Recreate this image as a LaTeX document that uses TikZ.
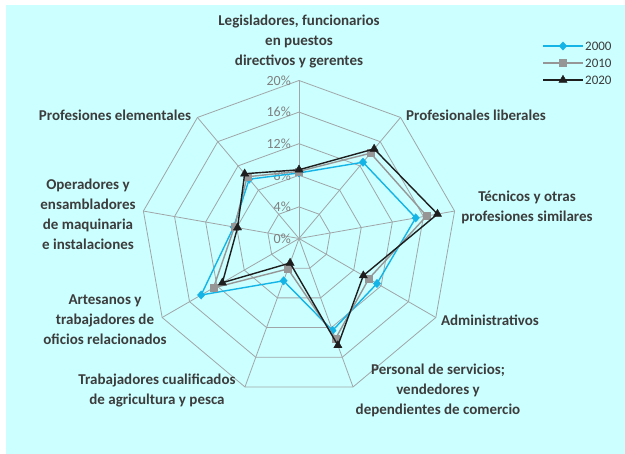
\documentclass[tikz,border=0pt]{standalone}
\usepackage{fontspec}
\setmainfont{Carlito}
\usetikzlibrary{shapes.geometric}
\definecolor{bgc}{RGB}{204,255,255}
\definecolor{gridc}{RGB}{160,165,168}
\definecolor{txt}{RGB}{60,60,60}
\definecolor{tickc}{RGB}{128,128,128}
\definecolor{cA}{RGB}{20,180,230}
\definecolor{cB}{RGB}{150,150,150}
\definecolor{cC}{RGB}{30,30,30}
\tikzset{
  gridline/.style={draw=gridc, line width=0.8pt},
  lab/.style={font=\fontsize{15}{20}\selectfont\bfseries, text=txt, align=center, inner sep=0pt},
  ticklab/.style={font=\fontsize{14}{14}\selectfont, text=tickc, anchor=east, inner sep=0pt},
  legtxt/.style={font=\fontsize{13}{14}\selectfont, text=txt, anchor=west, inner sep=0pt},
  serA/.style={draw=cA, line width=1.4pt, line join=round},
  serB/.style={draw=cB, line width=1.4pt, line join=round},
  serC/.style={draw=cC, line width=1.4pt, line join=round},
  mkA/.style={diamond, fill=cA, draw=cA, inner sep=0pt, minimum width=7.5pt, minimum height=8.5pt},
  mkB/.style={rectangle, fill=cB, draw=cB, inner sep=0pt, minimum size=7pt},
  mkC/.style={regular polygon, regular polygon sides=3, fill=cC, draw=cC, inner sep=0pt, minimum size=9.5pt},
}
\begin{document}
\begin{tikzpicture}[x=1pt,y=1pt]
\useasboundingbox (0,0) rectangle (625,454);
\fill[bgc] (6,0) rectangle (625,449);
% radar
\begin{scope}[shift={(299,215.5)}]
  \foreach \r in {31.6,63.2,94.8,126.4,158}{
    \draw[gridline] (90:\r) \foreach \a in {50,10,-30,-70,-110,-150,170,130}{ -- (\a:\r)} -- cycle;
  }
  \foreach \a in {90,50,10,-30,-70,-110,-150,170,130}{
    \draw[gridline] (0,0) -- (\a:158);
  }
  \node[ticklab] (t0) at (-8,0) {0\%};
  \node[ticklab] (t4) at (-8,31.6) {4\%};
  \node[ticklab] (t8) at (-8,63.2) {8\%};
  \node[ticklab] (t12) at (-8,94.8) {12\%};
  \node[ticklab] (t16) at (-8,126.4) {16\%};
  \node[ticklab] (t20) at (-8,158) {20\%};
  % data: per cent * 7.9
  \def\k{7.9}
  \coordinate (a1) at (90:8.3*\k);  \coordinate (b1) at (90:8.5*\k);  \coordinate (c1) at (90:8.7*\k);
  \coordinate (a2) at (50:12.6*\k); \coordinate (b2) at (50:14.1*\k); \coordinate (c2) at (50:14.8*\k);
  \coordinate (a3) at (10:15.0*\k); \coordinate (b3) at (10:16.4*\k); \coordinate (c3) at (10:17.8*\k);
  \coordinate (a4) at (-30:11.4*\k); \coordinate (b4) at (-30:10.2*\k); \coordinate (c4) at (-30:9.4*\k);
  \coordinate (a5) at (-70:12.4*\k); \coordinate (b5) at (-70:13.5*\k); \coordinate (c5) at (-70:14.4*\k);
  \coordinate (a6) at (-110:5.7*\k); \coordinate (b6) at (-110:4.1*\k); \coordinate (c6) at (-110:3.3*\k);
  \coordinate (a7) at (-150:14.3*\k); \coordinate (b7) at (-150:12.5*\k); \coordinate (c7) at (-150:11.2*\k);
  \coordinate (a8) at (170:8.4*\k); \coordinate (b8) at (170:8.3*\k); \coordinate (c8) at (170:7.9*\k);
  \coordinate (a9) at (130:9.8*\k); \coordinate (b9) at (130:10.2*\k); \coordinate (c9) at (130:10.7*\k);
  \draw[serA] (a1) -- (a2) -- (a3) -- (a4) -- (a5) -- (a6) -- (a7) -- (a8) -- (a9) -- cycle;
  \foreach \i in {1,...,9}{ \node[mkA] (ma\i) at (a\i) {}; }
  \draw[serB] (b1) -- (b2) -- (b3) -- (b4) -- (b5) -- (b6) -- (b7) -- (b8) -- (b9) -- cycle;
  \foreach \i in {1,...,9}{ \node[mkB] (mb\i) at (b\i) {}; }
  \draw[serC] (c1) -- (c2) -- (c3) -- (c4) -- (c5) -- (c6) -- (c7) -- (c8) -- (c9) -- cycle;
  \foreach \i in {1,...,9}{ \node[mkC] (mc\i) at (c\i) {}; }
\end{scope}
% category labels (y = 454 - px)
\node[lab] (L1) at (299,412) {Legisladores, funcionarios\\en puestos\\directivos y gerentes};
\node[lab] (L2) at (476,339) {Profesionales liberales};
\node[lab] (L3) at (527,247) {Técnicos y otras\\profesiones similares};
\node[lab] (L4) at (490,134) {Administrativos};
\node[lab] (L5) at (438,64) {Personal de servicios;\\vendedores y\\dependientes de comercio};
\node[lab] (L6) at (157,63) {Trabajadores cualificados\\de agricultura y pesca};
\node[lab] (L7) at (105,134) {Artesanos y\\trabajadores de\\oficios relacionados};
\node[lab] (L8) at (88,240) {Operadores y\\ensambladores\\de maquinaria\\e instalaciones};
\node[lab] (L9) at (115,339) {Profesiones elementales};
% legend
\coordinate (la0) at (543,408); \coordinate (la1) at (583,408);
\coordinate (lb0) at (543,391); \coordinate (lb1) at (583,391);
\coordinate (lc0) at (543,374); \coordinate (lc1) at (583,374);
\draw[serA] (la0) -- (la1); \node[mkA] (lma) at (563,408) {}; \node[legtxt] (lta) at (585,408) {2000};
\draw[serB] (lb0) -- (lb1); \node[mkB] (lmb) at (563,391) {}; \node[legtxt] (ltb) at (585,391) {2010};
\draw[serC] (lc0) -- (lc1); \node[mkC] (lmc) at (563,374) {}; \node[legtxt] (ltc) at (585,374) {2020};
\end{tikzpicture}
\end{document}
